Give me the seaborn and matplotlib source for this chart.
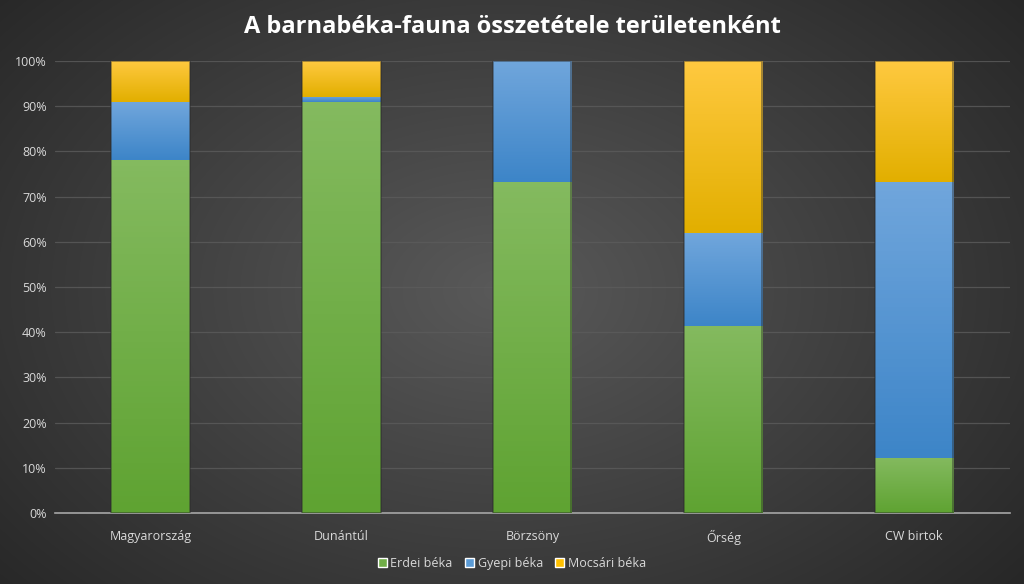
import numpy as np
import matplotlib
matplotlib.use("Agg")
import matplotlib.pyplot as plt
from matplotlib.colors import LinearSegmentedColormap
from matplotlib.patches import Patch
from matplotlib.ticker import PercentFormatter
import pandas as pd
import seaborn as sns

# Data (percent share of each species per area)
regions = ["Magyarország", "Dunántúl", "Börzsöny", "Őrség", "CW birtok"]
erdei = [78.1, 90.9, 73.2, 41.4, 12.2]
gyepi = [12.8, 1.2, 26.8, 20.5, 61.0]
mocsari = [9.1, 7.9, 0.0, 38.1, 26.8]
species = ["Erdei béka", "Gyepi béka", "Mocsári béka"]

sns.set_style("dark")
plt.rcParams['font.family'] = ['Open Sans', 'DejaVu Sans']

fig = plt.figure(figsize=(10.24, 5.84), dpi=100)

# radial dark background
bg = fig.add_axes([0, 0, 1, 1], zorder=-10)
yy, xx = np.mgrid[0:584, 0:1024]
r = np.sqrt(((xx - 500) / 620.0) ** 2 + ((yy - 290) / 420.0) ** 2)
shade = np.clip(0.35 - 0.18 * r, 0.15, 0.35)
bg.imshow(np.dstack([shade] * 3), aspect='auto', extent=[0, 1, 0, 1])
bg.axis('off')

ax = fig.add_axes([0.0537, 0.1216, 0.9323, 0.7739])
ax.set_facecolor('none')

df = pd.DataFrame({"region": regions, "Erdei béka": erdei,
                   "Gyepi béka": gyepi, "Mocsári béka": mocsari})
cum = df[species].cumsum(axis=1)

grads = {
    "Erdei béka": ("#5fa332", "#84ba5f"),
    "Gyepi béka": ("#3d85c8", "#70a6dc"),
    "Mocsári béka": ("#e2af00", "#ffc940"),
}
solid = {"Erdei béka": "#70ad47", "Gyepi béka": "#5b9bd5", "Mocsári béka": "#ffc000"}

bar_w = 0.41
# draw the stack back to front with seaborn, then paint a gradient on each segment
for k in range(len(species) - 1, -1, -1):
    sp = species[k]
    sns.barplot(x=df["region"], y=cum[sp], color=solid[sp], width=bar_w,
                ax=ax, zorder=2, linewidth=0, saturation=1)

for k, sp in enumerate(species):
    cmap = LinearSegmentedColormap.from_list(sp, grads[sp])
    for i in range(len(regions)):
        lo = cum[species[k - 1]][i] if k > 0 else 0.0
        hi = cum[sp][i]
        if hi - lo <= 0:
            continue
        grad = np.linspace(1, 0, 64).reshape(-1, 1)
        ax.imshow(grad, cmap=cmap, aspect='auto', zorder=3,
                  extent=[i - bar_w / 2, i + bar_w / 2, lo, hi])

# subtle dark outline/shadow on bars
for i in range(len(regions)):
    ax.add_patch(plt.Rectangle((i - bar_w / 2, 0), bar_w, 100, fill=False,
                               edgecolor='#2a2a2a', linewidth=1.2, alpha=0.5, zorder=4))

ax.set_xlim(-0.5, len(regions) - 0.5)
ax.set_ylim(0, 100)
ax.yaxis.set_major_formatter(PercentFormatter(decimals=0))
ax.set_yticks(np.arange(0, 101, 10))
ax.grid(axis='y', color='#5c5c5c', linewidth=0.9, alpha=0.8, zorder=0)
ax.grid(axis='x', visible=False)
for s in ['top', 'right', 'left']:
    ax.spines[s].set_visible(False)
ax.spines['bottom'].set_color('#a6a6a6')
ax.spines['bottom'].set_linewidth(1.2)
ax.tick_params(axis='both', colors='#d9d9d9', labelsize=9, length=0)
ax.tick_params(axis='x', pad=12)
ax.tick_params(axis='y', pad=6)
ax.set_xlabel("")
ax.set_ylabel("")

fig.text(0.5, 0.953, "A barnabéka-fauna összetétele területenként", ha='center',
         va='center', color='white', fontsize=17, fontweight='bold')

handles = [Patch(facecolor=solid[sp], label=sp) for sp in species]
fig.legend(handles=handles, loc='center', bbox_to_anchor=(0.5, 0.035), ncol=3,
           frameon=False, fontsize=9, labelcolor='#d9d9d9', handlelength=0.7,
           handleheight=0.7, handletextpad=0.3, columnspacing=1.0)

fig.savefig("out.png", dpi=100)
